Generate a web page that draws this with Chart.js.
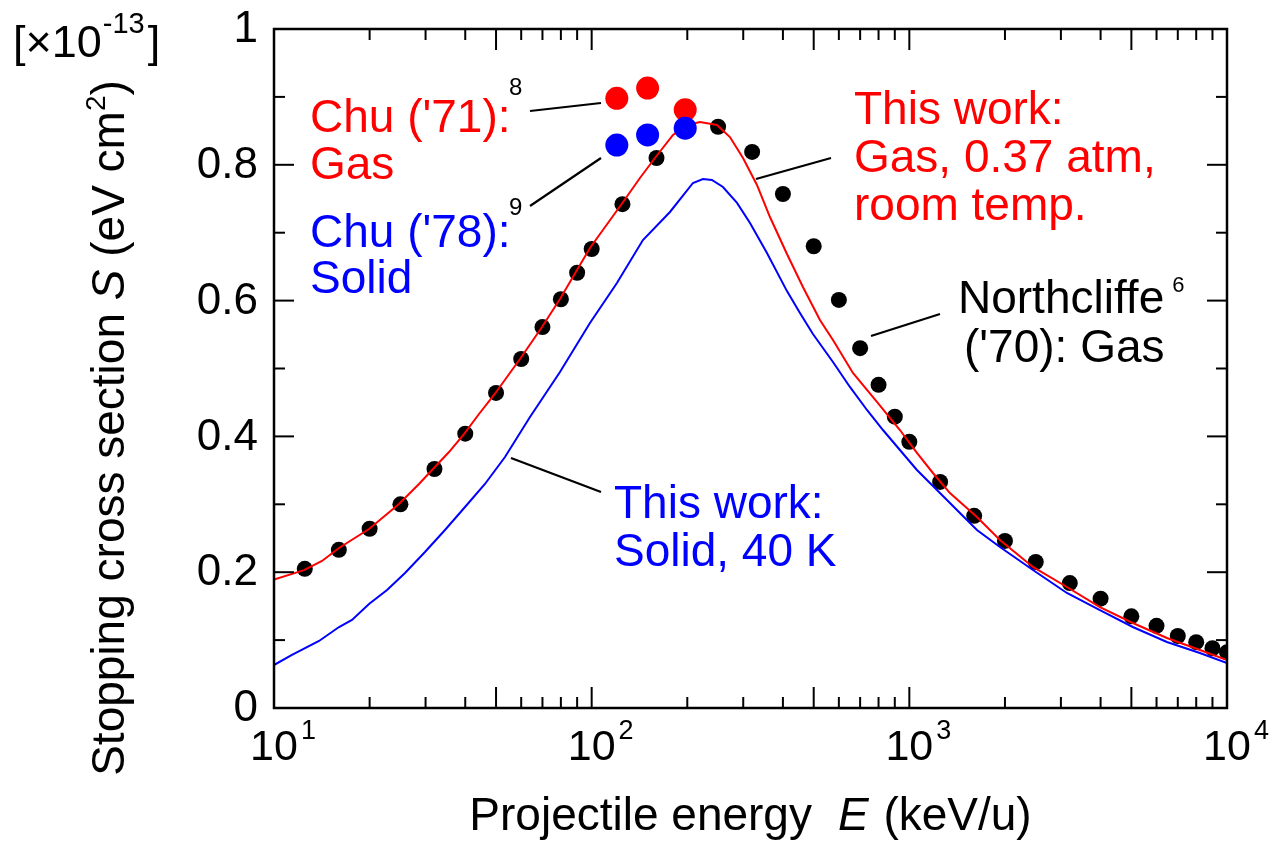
<!DOCTYPE html>
<html>
<head>
<meta charset="utf-8">
<script src="https://cdn.jsdelivr.net/npm/chart.js@4.4.1/dist/chart.umd.min.js"></script>
<style>
  html, body { margin: 0; padding: 0; background: #ffffff; }
  #wrap { width: 1272px; height: 841px; }
</style>
</head>
<body>
<div id="wrap"><canvas id="c" width="1272" height="841"></canvas></div>
<script>
const FONT = '"Liberation Sans", Arial, Helvetica, sans-serif';

// Northcliffe ('70): gas, projectile energy (keV/u) and S (1e-13 eV cm^2)
const northcliffeEnergy = [12.5, 16, 20, 25, 32, 40, 50, 60, 70, 80, 90, 100, 125, 160,
  250, 320, 400, 500, 600, 700, 800, 900, 1000, 1250, 1600, 2000, 2500, 3200, 4000,
  5000, 6000, 7000, 8000, 9000, 10000];
const northcliffeS = [0.205, 0.233, 0.264, 0.300, 0.352, 0.404, 0.464, 0.514, 0.561, 0.602,
  0.641, 0.676, 0.742, 0.810, 0.856, 0.819, 0.757, 0.680, 0.601, 0.530, 0.476, 0.429,
  0.392, 0.333, 0.283, 0.246, 0.215, 0.184, 0.161, 0.135, 0.121, 0.106, 0.097, 0.088, 0.082];

// Chu ('71): gas
const chu71Energy = [120, 150, 197];
const chu71S = [0.898, 0.913, 0.881];

// Chu ('78): solid
const chu78Energy = [120, 150, 197];
const chu78S = [0.829, 0.844, 0.854];

// This work: gas, 0.37 atm, room temperature
const gasEnergy = [10, 12.43, 14.16, 16.02, 19.91, 22.69, 24.74, 28.6, 31.88, 35.55, 39.63,
  44.19, 49.27, 59.48, 69.77, 79.47, 98.77, 124.6, 141.9, 158.2, 180.3, 199.5, 219.3,
  248, 272.4, 299.5, 331.4, 364.1, 411.9, 462.4, 523.1, 574.9, 664.4, 790.7, 934.1,
  1056.6, 1186.6, 1342.4, 1632.4, 1928.6, 2449.9, 3133.2, 3980.5, 5052, 6469, 8215, 10000];
const gasS = [0.189, 0.203, 0.2165, 0.2356, 0.2636, 0.2857, 0.3004, 0.3299, 0.3535, 0.377,
  0.4035, 0.433, 0.461, 0.514, 0.5611, 0.6024, 0.6775, 0.743, 0.7806, 0.81, 0.8439, 0.8586,
  0.863, 0.8586, 0.8409, 0.81, 0.7703, 0.7231, 0.6686, 0.62, 0.5714, 0.542, 0.4934, 0.4507,
  0.4094, 0.3756, 0.3461, 0.3166, 0.2813, 0.2474, 0.2077, 0.1782, 0.1487, 0.1252, 0.1031,
  0.0854, 0.0707];

// This work: solid, 40 K
const solidEnergy = [10, 11.39, 13.86, 16.02, 17.6, 19.91, 22.69, 25.85, 29.87, 34.53, 39.93,
  46.14, 53.35, 63.95, 79.47, 98.77, 120.1, 145, 176.4, 208.4, 224, 239.1, 259, 286.8,
  315.1, 356.3, 411.9, 452.6, 497.2, 574.9, 650.1, 735.6, 826, 934.1, 1056.6, 1221.6,
  1412, 1632.4, 1928.6, 2449.9, 3133.2, 3980.5, 5052, 6469, 8215, 10000];
const solidS = [0.0633, 0.0781, 0.0987, 0.1193, 0.1296, 0.1532, 0.1738, 0.1988, 0.2297,
  0.2621, 0.296, 0.3299, 0.3697, 0.4286, 0.4948, 0.567, 0.6259, 0.6892, 0.7305, 0.7732,
  0.7791, 0.7776, 0.7673, 0.7438, 0.7143, 0.6701, 0.614, 0.5817, 0.5508, 0.5096, 0.4728,
  0.4389, 0.4094, 0.38, 0.3505, 0.3211, 0.2916, 0.2622, 0.2371, 0.2032, 0.1694, 0.1443,
  0.1193, 0.0972, 0.081, 0.0663];

// Axis ticks
const yTickValues = [0, 0.2, 0.4, 0.6, 0.8, 1];
const yTickLabels = ['0', '0.2', '0.4', '0.6', '0.8', '1'];
const xDecades = [10, 100, 1000, 10000];
const xDecadeExponents = ['1', '2', '3', '4'];

const toPoints = (xs, ys) => xs.map((x, i) => ({ x: x, y: ys[i] }));

// Draws a run of text pieces (with optional superscripts / italics) left to right.
function drawRuns(ctx, runs, x, y, align) {
  let total = 0;
  runs.forEach(r => {
    ctx.font = (r.italic ? 'italic ' : '') + r.size + 'px ' + FONT;
    r.w = ctx.measureText(r.t).width;
    total += r.w + (r.gap || 0);
  });
  let cx = x;
  if (align === 'center') cx = x - total / 2;
  else if (align === 'right') cx = x - total;
  ctx.textAlign = 'left';
  ctx.textBaseline = 'alphabetic';
  runs.forEach(r => {
    cx += (r.gap || 0);
    ctx.font = (r.italic ? 'italic ' : '') + r.size + 'px ' + FONT;
    ctx.fillStyle = r.color || '#000';
    ctx.fillText(r.t, cx, y + (r.dy || 0));
    cx += r.w;
  });
}

function line(ctx, x1, y1, x2, y2, w) {
  ctx.beginPath();
  ctx.lineWidth = w;
  ctx.moveTo(x1, y1);
  ctx.lineTo(x2, y2);
  ctx.stroke();
}

const framePlugin = {
  id: 'frameAndText',
  afterDraw(chart) {
    const ctx = chart.ctx;
    const xs = chart.scales.x, ys = chart.scales.y;
    const L = xs.left, R = xs.right, T = ys.top, B = ys.bottom;
    ctx.save();
    ctx.strokeStyle = '#000';
    ctx.lineCap = 'butt';

    // frame
    ctx.lineWidth = 2.5;
    ctx.strokeRect(L, T, R - L, B - T);

    // x ticks (inside, top and bottom)
    for (let d = 0; d < xDecades.length - 1; d++) {
      for (let m = 1; m <= 9; m++) {
        const v = xDecades[d] * m;
        const px = xs.getPixelForValue(v);
        const len = (m === 1 || m === 5) ? 21 : 11;
        line(ctx, px, B, px, B - len, 2);
        line(ctx, px, T, px, T + len, 2);
      }
    }
    // y ticks (inside, left and right)
    for (let k = 0; k <= 10; k++) {
      const v = k / 10;
      const py = ys.getPixelForValue(v);
      const len = (k % 2 === 0) ? 20 : 11;
      line(ctx, L, py, L + len, py, 2);
      line(ctx, R, py, R - len, py, 2);
    }

    // y tick labels
    ctx.fillStyle = '#000';
    ctx.font = '44px ' + FONT;
    ctx.textAlign = 'right';
    ctx.textBaseline = 'middle';
    yTickValues.forEach((v, i) => {
      ctx.fillText(yTickLabels[i], L - 16, ys.getPixelForValue(v) + 1);
    });

    // x tick labels: 10 with superscript exponent
    xDecades.forEach((v, i) => {
      const px = xs.getPixelForValue(v);
      ctx.font = '43px ' + FONT;
      const w10 = ctx.measureText('10').width;
      ctx.textAlign = 'left';
      ctx.textBaseline = 'alphabetic';
      ctx.fillStyle = '#000';
      ctx.fillText('10', px - w10 / 2, 760);
      ctx.font = '27px ' + FONT;
      ctx.fillText(xDecadeExponents[i], px + w10 / 2 + 3, 739);
    });

    // x axis title
    drawRuns(ctx, [
      { t: 'Projectile energy', size: 46 },
      { t: 'E', size: 46, italic: true, gap: 26 },
      { t: ' (keV/u)', size: 46, gap: 2 }
    ], (L + R) / 2, 830, 'center');

    // y axis title (rotated)
    ctx.save();
    ctx.translate(124, 428);
    ctx.rotate(-Math.PI / 2);
    drawRuns(ctx, [
      { t: 'Stopping cross section ', size: 46 },
      { t: 'S', size: 46, italic: true },
      { t: ' (eV cm', size: 46 },
      { t: '2', size: 28, dy: -19 },
      { t: ')', size: 46 }
    ], 0, 0, 'center');
    ctx.restore();

    // unit multiplier
    drawRuns(ctx, [
      { t: '[\u00d710', size: 45 },
      { t: '-13', size: 29, dy: -24, gap: 1 },
      { t: ']', size: 45, gap: 3 }
    ], 13, 57, 'left');

    // annotations
    const red = '#ff0000', blue = '#0000ff';
    drawRuns(ctx, [{ t: "Chu ('71):", size: 46, color: red }], 310, 132, 'left');
    drawRuns(ctx, [{ t: 'Gas', size: 46, color: red }], 310, 179, 'left');
    drawRuns(ctx, [{ t: "Chu ('78):", size: 46, color: blue }], 310, 247, 'left');
    drawRuns(ctx, [{ t: 'Solid', size: 46, color: blue }], 310, 293, 'left');
    drawRuns(ctx, [{ t: '8', size: 24 }], 509, 95, 'left');
    drawRuns(ctx, [{ t: '9', size: 24 }], 509, 215, 'left');

    drawRuns(ctx, [{ t: 'This work:', size: 46, color: red }], 854, 124, 'left');
    drawRuns(ctx, [{ t: 'Gas, 0.37 atm,', size: 46, color: red }], 854, 172, 'left');
    drawRuns(ctx, [{ t: 'room temp.', size: 46, color: red }], 854, 220, 'left');

    drawRuns(ctx, [{ t: 'Northcliffe', size: 46 }, { t: '6', size: 22, dy: -21, gap: 8 }], 958, 313, 'left');
    drawRuns(ctx, [{ t: "('70): Gas", size: 46 }], 964, 362, 'left');

    drawRuns(ctx, [{ t: 'This work:', size: 46, color: blue }], 614, 518, 'left');
    drawRuns(ctx, [{ t: 'Solid, 40 K', size: 46, color: blue }], 614, 566, 'left');

    // leader lines
    ctx.strokeStyle = '#000';
    line(ctx, 530, 111, 601, 103, 2.2);
    line(ctx, 530, 206, 601, 158, 2.2);
    line(ctx, 756, 179, 831, 158, 2.2);
    line(ctx, 871, 336, 940, 314, 2.2);
    line(ctx, 511, 458, 601, 492, 2.2);

    ctx.restore();
  }
};

new Chart(document.getElementById('c'), {
  type: 'scatter',
  data: {
    datasets: [
      { label: "Chu ('78): Solid", data: toPoints(chu78Energy, chu78S),
        backgroundColor: '#0000ff', borderWidth: 0, pointRadius: 11.5, order: 0 },
      { label: "Chu ('71): Gas", data: toPoints(chu71Energy, chu71S),
        backgroundColor: '#ff0000', borderWidth: 0, pointRadius: 11.5, order: 1 },
      { label: 'This work: Gas', data: toPoints(gasEnergy, gasS), showLine: true,
        borderColor: '#ff0000', borderWidth: 2, pointRadius: 0, tension: 0, order: 2 },
      { label: 'This work: Solid', data: toPoints(solidEnergy, solidS), showLine: true,
        borderColor: '#0000ff', borderWidth: 2, pointRadius: 0, tension: 0, order: 3 },
      { label: "Northcliffe ('70): Gas", data: toPoints(northcliffeEnergy, northcliffeS),
        backgroundColor: '#000000', borderWidth: 0, pointRadius: 8, order: 4 }
    ]
  },
  options: {
    responsive: false,
    animation: false,
    devicePixelRatio: 1,
    layout: { padding: { left: 274, top: 29, right: 45, bottom: 133 } },
    plugins: { legend: { display: false }, tooltip: { enabled: false } },
    scales: {
      x: { type: 'logarithmic', min: 10, max: 10000, display: false },
      y: { type: 'linear', min: 0, max: 1, display: false }
    }
  },
  plugins: [framePlugin]
});
</script>
</body>
</html>
